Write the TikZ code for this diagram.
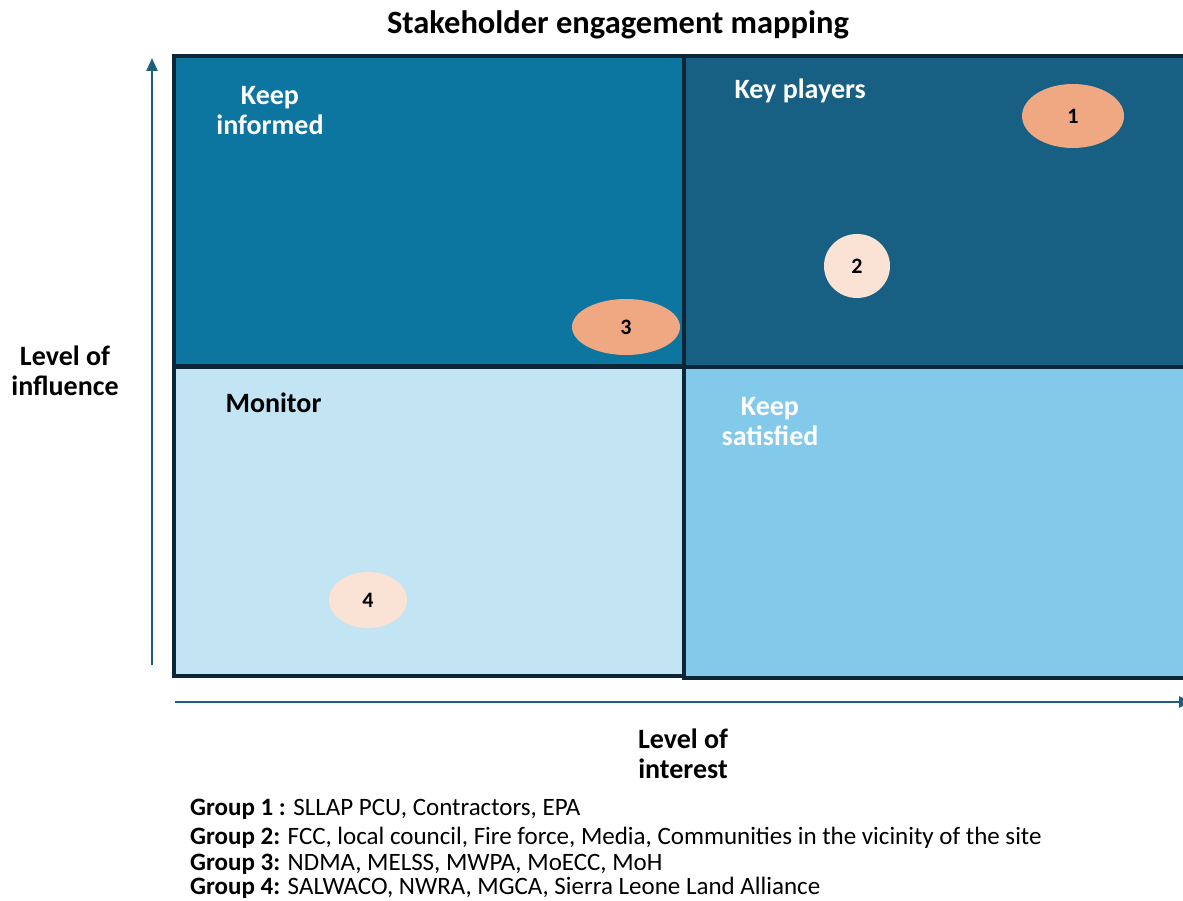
\documentclass[tikz,border=0pt]{standalone}
\usepackage{fontspec}
\setmainfont{Carlito}
\usetikzlibrary{arrows.meta,shapes.geometric}
\definecolor{qtl}{RGB}{13,118,160}
\definecolor{qtr}{RGB}{23,95,131}
\definecolor{qbl}{RGB}{194,228,243}
\definecolor{qbr}{RGB}{131,202,234}
\definecolor{qedge}{RGB}{12,38,55}
\definecolor{axisc}{RGB}{30,95,128}
\definecolor{orng}{RGB}{240,168,130}
\definecolor{pale}{RGB}{250,226,213}
\tikzset{
  quad/.style={draw=qedge,line width=3.4pt},
  bubble/.style={ellipse,inner sep=0pt,font=\fontsize{22}{24}\selectfont\bfseries,text=black},
  qlabel/.style={font=\fontsize{28}{30}\selectfont\bfseries,align=center},
  axlabel/.style={font=\fontsize{28}{30}\selectfont\bfseries,align=center,text=black},
  grp/.style={font=\fontsize{25}{28}\selectfont,anchor=base west,text=black,inner sep=0pt},
  axisarrow/.style={draw=axisc,line width=2.4pt,-{Triangle[length=13pt,width=11pt]}},
}
\begin{document}
\begin{tikzpicture}[x=1pt,y=-1pt]
\useasboundingbox (0,0) rectangle (1183,901);
\fill[white] (0,0) rectangle (1183,901);
% quadrants
\filldraw[quad,fill=qtl] (174,56) rectangle (684,366);
\filldraw[quad,fill=qtr] (684,56) rectangle (1192,367);
\filldraw[quad,fill=qbl] (174,367) rectangle (684,676);
\filldraw[quad,fill=qbr] (684,367) rectangle (1192,678);
% axes
\coordinate (ys) at (152,665);
\coordinate (ye) at (152,58);
\coordinate (xs) at (175,702);
\coordinate (xe) at (1192,702);
\draw[axisarrow] (ys) -- (ye);
\draw[axisarrow] (xs) -- (xe);
% title
\node[font=\fontsize{32.5}{34}\selectfont\bfseries] (title) at (618,25) {Stakeholder engagement mapping};
% quadrant labels
\node[qlabel,text=white] (ki) at (270,111) {Keep\\informed};
\node[qlabel,text=white,anchor=west] (kp) at (731,91) {Key players};
\node[qlabel,text=black,anchor=west] (mon) at (222,403) {Monitor};
\node[qlabel,text=white] (ks) at (770,422) {Keep\\satisfied};
% axis labels
\node[axlabel] (lin) at (65,371) {Level of\\influence};
\node[axlabel] (lint) at (683,754) {Level of\\interest};
% bubbles
\node[bubble,fill=orng,minimum width=102pt,minimum height=64pt] (b1) at (1073,116) {1};
\node[bubble,fill=pale,minimum width=66pt,minimum height=64pt] (b2) at (857,266) {2};
\node[bubble,fill=orng,minimum width=108pt,minimum height=56pt] (b3) at (626,327) {3};
\node[bubble,fill=pale,minimum width=78pt,minimum height=56pt] (b4) at (368,600) {4};
% groups
\node[grp] (g1) at (190,815) {\textbf{Group 1 :} SLLAP PCU, Contractors, EPA};
\node[grp] (g2) at (190,844) {\textbf{Group 2:} FCC, local council, Fire force, Media, Communities in the vicinity of the site};
\node[grp] (g3) at (190,870) {\textbf{Group 3:} NDMA, MELSS, MWPA, MoECC, MoH};
\node[grp] (g4) at (190,894) {\textbf{Group 4:} SALWACO, NWRA, MGCA, Sierra Leone Land Alliance};
\end{tikzpicture}
\end{document}
